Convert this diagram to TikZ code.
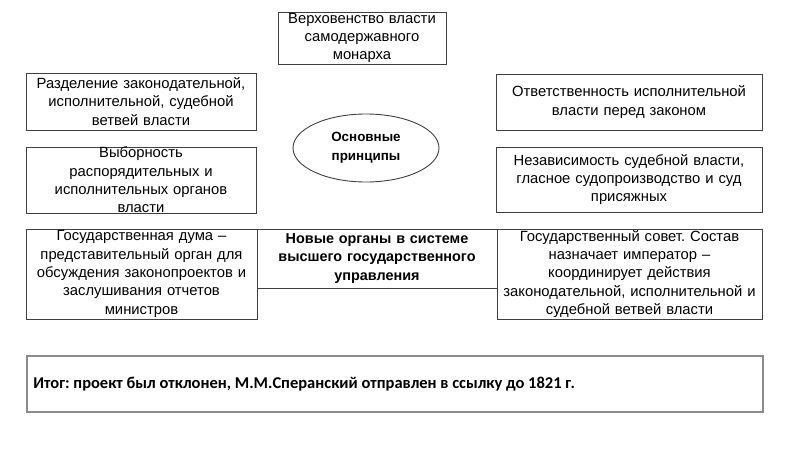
\documentclass[tikz,border=0pt]{standalone}
\usepackage{fontspec}
\setmainfont{Liberation Sans}
\newfontfamily\calib{Carlito}
\usetikzlibrary{shapes.geometric}
\frenchspacing
\definecolor{edge}{HTML}{404040}
\definecolor{edgegray}{HTML}{8C8C8C}
\tikzset{
  box/.style={draw=edge, line width=0.9pt, rectangle, inner sep=0pt, align=center,
    font=\fontsize{14.8}{18.3}\selectfont, text=black},
  oval/.style={draw=edge, line width=0.9pt, ellipse, inner sep=0pt, align=center,
    font=\bfseries\fontsize{13.4}{19}\selectfont},
  finalbox/.style={draw=edgegray, line width=1.6pt, rectangle, inner sep=0pt},
  finaltext/.style={font=\calib\bfseries\fontsize{16.5}{18}\selectfont, anchor=west, inner sep=0pt}
}
\begin{document}
\begin{tikzpicture}[x=1pt,y=-1pt]
\useasboundingbox (0,0) rectangle (800,450);
\node[box, minimum width=168pt, minimum height=52pt, text width=166pt] (top) at (362,38)
  {Верховенство власти\\самодержавного\\монарха};
\node[box, minimum width=230pt, minimum height=57pt, text width=228pt] (l1) at (141,101.5)
  {Разделение законодательной,\\исполнительной, судебной\\ветвей власти};
\node[box, minimum width=230pt, minimum height=66pt, text width=228pt] (l2) at (141,180)
  {Выборность\\распорядительных и\\исполнительных органов\\власти};
\node[box, minimum width=266pt, minimum height=56pt, text width=264pt] (r1) at (629,102)
  {Ответственность исполнительной\\власти перед законом};
\node[box, minimum width=266pt, minimum height=65pt, text width=264pt] (r2) at (629,179.5)
  {Независимость судебной власти,\\гласное судопроизводство и суд\\присяжных};
\node[oval, minimum width=146pt, minimum height=68pt] (main) at (366,148)
  {Основные\\принципы};
\node[box, minimum width=231pt, minimum height=90pt, text width=229pt] (l3) at (141.5,274)
  {Государственная дума –\\представительный орган для\\обсуждения законопроектов и\\заслушивания отчетов\\министров};
\node[box, minimum width=240pt, minimum height=59pt, text width=238pt, font=\bfseries\fontsize{14.4}{18.3}\selectfont] (mid) at (377,258.5)
  {Новые органы в системе\\высшего государственного\\управления};
\node[box, minimum width=265pt, minimum height=90pt, text width=263pt] (r3) at (629.5,274)
  {Государственный совет. Состав\\назначает император –\\координирует действия\\законодательной, исполнительной и\\судебной ветвей власти};
\node[finalbox, minimum width=736pt, minimum height=56pt] (fin) at (395,384) {};
\node[finaltext] (fintext) at ([xshift=7pt]fin.west)
  {Итог: проект был отклонен, М.М.Сперанский отправлен в ссылку до 1821 г.};
\end{tikzpicture}
\end{document}
